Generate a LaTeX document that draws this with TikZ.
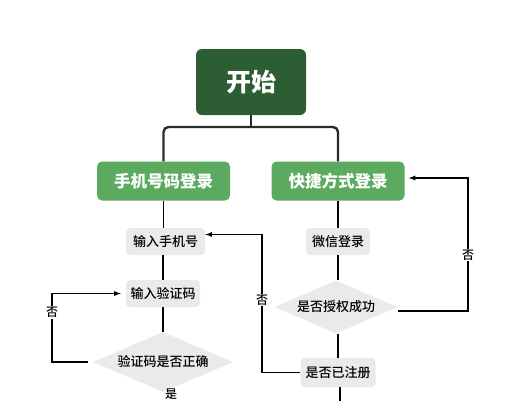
\documentclass[tikz,border=0pt]{standalone}
\usepackage{fontspec}
\setmainfont{Noto Sans CJK SC}
\newfontfamily\medfont{Noto Sans CJK SC}[UprightFont={* Medium}]
\usetikzlibrary{shapes.geometric}
\definecolor{startgreen}{HTML}{2D5E33}
\definecolor{loggreen}{HTML}{5CAA5F}
\definecolor{boxgray}{HTML}{EAEAEA}
\definecolor{linegray}{HTML}{2B2B2B}

\begin{document}
\begin{tikzpicture}[x=1pt,y=-1pt]
  \tikzset{ sbox/.style={rounded corners=6pt,fill=startgreen,text=white,font=\fontsize{25}{25}\selectfont\bfseries,minimum width=110pt,minimum height=66pt,inner sep=0pt},
    gbox/.style={rounded corners=5pt,fill=loggreen,text=white,font=\fontsize{16.5}{16.5}\selectfont\bfseries,minimum width=133pt,minimum height=39pt,inner sep=0pt},
    ibox/.style={rounded corners=4pt,fill=boxgray,font=\fontsize{13}{13}\medfont,minimum height=27pt,inner sep=0pt},
    dec/.style={diamond,fill=boxgray,aspect=2,inner sep=0pt,font=\fontsize{13}{13}\medfont},
    trunk/.style={line width=2.4pt,linegray,rounded corners=5pt},
    flow/.style={line width=1.3pt,black},
    lab/.style={fill=white,inner sep=1pt,font=\fontsize{12}{12}\medfont},
  }
  \useasboundingbox (0,0) rectangle (521,400);

  \node[sbox] (start) at (251, 82) {开始};
  \node[gbox] (phone) at (163.5, 181) {手机号码登录};
  \node[gbox] (quick) at (338, 181) {快捷方式登录};

  \node[ibox,minimum width=79pt] (phoneIn) at (165.5, 241.5) {输入手机号};
  \node[ibox,minimum width=74pt] (codeIn) at (163, 293.5) {输入验证码};
  \node[dec,minimum width=140pt,minimum height=60pt] (check) at (163, 362) {验证码是否正确};
  \node[font=\fontsize{12}{12}\medfont] (yes) at (171, 394) {是};

  \node[ibox,minimum width=64pt] (wechat) at (338, 241.5) {微信登录};
  \node[dec,minimum width=123pt,minimum height=53pt] (auth) at (336, 307) {是否授权成功};
  \node[ibox,minimum width=75pt,minimum height=29pt] (reg) at (338, 372.5) {是否已注册};

  \coordinate (fork) at (251, 127);
  \coordinate (lx) at (52, 0);
  \coordinate (mx) at (262, 0);
  \coordinate (rx) at (468, 0);
  \coordinate (off) at (340, 405);

  \draw[trunk] (start.south) -- (fork);
  \draw[trunk] (phone.north) |- (fork) -| (quick.north);

  \draw[flow] (phone.south) -- (phoneIn.north -| phone.south);
  \draw[flow] (phoneIn.south -| codeIn.north) -- (codeIn.north);
  \draw[flow] (codeIn.south) -- (check.north);
  \draw[flow] (quick.south) -- (wechat.north);
  \draw[flow] (wechat.south) -- (auth.north -| wechat.south);
  \draw[flow] (auth.south -| reg.north) -- (reg.north);
  \draw[flow] (reg.south -| off) -- (off);

  % loops back
  \draw[flow,-latex,shorten <=5pt,shorten >=5pt] (check.west) -- (check.west -| lx)
    -- node[lab,pos=0.72] {否} (codeIn.west -| lx) -- (codeIn.west);
  \draw[flow,-latex] (reg.west) -- (reg.west -| mx)
    -- node[lab,pos=0.525] {否} ([yshift=7pt]phoneIn.east -| mx) -- ([yshift=7pt]phoneIn.east);
  \draw[flow,-latex,shorten >=4pt] ([yshift=-4pt]auth.east) -- ([yshift=-4pt]auth.east -| rx)
    -- node[lab,pos=0.42] {否} ([yshift=3pt]quick.east -| rx) -- ([yshift=3pt]quick.east);
\end{tikzpicture}
\end{document}
